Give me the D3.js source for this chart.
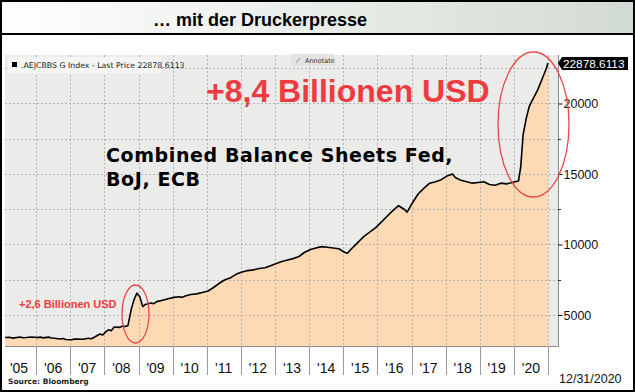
<!DOCTYPE html>
<html>
<head>
<meta charset="utf-8">
<script src="https://cdn.jsdelivr.net/npm/d3@7"></script>
<style>
  body { margin: 0; background: #fff; }
  svg { display: block; }
</style>
</head>
<body>
<div id="chart"></div>
<script>
// data (bn USD, combined Fed + BoJ + ECB)
var dates = [
  "2005-01-15","2005-02-15","2005-03-15","2005-05-01","2005-05-15","2005-07-15","2005-08-15","2005-09-15","2005-11-15",
  "2006-01-15","2006-02-15","2006-03-15","2006-05-15","2006-06-15","2006-07-15","2006-09-15","2006-10-15","2006-11-15",
  "2007-01-15","2007-02-15","2007-03-15","2007-05-15","2007-07-15","2007-08-15","2007-09-15","2007-11-15","2007-12-15",
  "2008-01-15","2008-02-15","2008-03-15","2008-04-15","2008-06-15","2008-07-15","2008-08-15","2008-09-10",
  "2008-10-15","2008-11-15","2008-12-15","2009-01-15","2009-02-15","2009-03-15",
  "2009-05-15","2009-06-15","2009-07-15","2009-09-15","2009-11-15",
  "2010-01-15","2010-03-15","2010-04-15","2010-05-15","2010-07-15","2010-09-15","2010-11-15",
  "2011-01-15","2011-03-15","2011-05-15","2011-07-15","2011-09-15","2011-11-15",
  "2012-01-15","2012-03-15","2012-05-15","2012-07-15","2012-09-15","2012-11-15",
  "2013-01-15","2013-03-15","2013-05-15","2013-07-15","2013-09-15","2013-11-15",
  "2014-01-15","2014-03-15","2014-05-15","2014-07-15","2014-09-15","2014-11-15",
  "2015-01-15","2015-02-15","2015-04-15","2015-06-15","2015-08-15","2015-10-15","2015-12-15",
  "2016-02-15","2016-04-15","2016-06-15","2016-08-15","2016-10-15","2016-11-15",
  "2017-01-15","2017-03-15","2017-05-15","2017-07-15","2017-09-15","2017-11-15",
  "2018-01-15","2018-03-15","2018-04-15","2018-06-15","2018-08-15","2018-10-15","2018-12-15",
  "2019-02-15","2019-04-15","2019-06-15","2019-08-15","2019-10-15","2019-12-15",
  "2020-01-15","2020-02-20","2020-03-15","2020-04-10","2020-05-15","2020-06-15",
  "2020-07-15","2020-08-15","2020-09-15","2020-10-15","2020-11-15","2020-12-15","2020-12-31"
];
var values = [
  3450,3400,3420,3360,3380,3440,3390,3400,3440,
  3400,3430,3380,3430,3370,3350,3300,3330,3260,
  3240,3290,3300,3280,3350,3320,3420,3650,3580,
  3800,3950,3880,4150,4120,4220,4180,4250,
  5400,6100,6550,6300,5600,5750,
  5850,5800,5950,6050,6150,
  6250,6300,6250,6350,6450,6500,6600,
  6700,6950,7250,7500,7650,7900,
  8050,8150,8200,8300,8350,8500,
  8650,8800,8900,9000,9150,9450,
  9650,9750,9850,9800,9750,9700,
  9450,9380,9800,10200,10600,10900,11200,
  11600,12000,12400,12750,12500,12300,
  13000,13600,14000,14350,14450,14600,
  14850,15000,14750,14550,14450,14350,14400,
  14450,14250,14200,14350,14300,14400,
  14450,14500,15500,17800,19000,19800,
  20200,20600,21000,21500,22000,22500,22878.6113
];
var yearLabels = ["'05","'06","'07","'08","'09","'10","'11","'12","'13","'14","'15","'16","'17","'18","'19","'20"];
var yTicks = [5000, 10000, 15000, 20000];
var lastPrice = "22878.6113";

var w = 635;
var h = 392;

var plotLeft = 5, plotRight = 558, plotTop = 55, plotBottom = 346;

var parseDate = d3.timeParse("%Y-%m-%d");
var data = dates.map(function(d, i) { return { date: parseDate(d), value: values[i] }; });

var x = d3.scaleTime()
  .domain([new Date(2005, 0, 1), new Date(2021, 0, 1)])
  .range([2, 548]);
var y = d3.scaleLinear()
  .domain([0, 25000])
  .range([385.5, 33]);

var svg = d3.select("#chart")
  .append("svg")
  .attr("width", w)
  .attr("height", h);

var defs = svg.append("defs");
var grad = defs.append("linearGradient").attr("id", "titleGrad");
grad.append("stop").attr("offset", "0%").attr("stop-color", "#ffffff");
grad.append("stop").attr("offset", "100%").attr("stop-color", "#d2dbd2");
defs.append("clipPath").attr("id", "plotClip")
  .append("rect")
  .attr("x", plotLeft).attr("y", plotTop)
  .attr("width", plotRight - plotLeft).attr("height", plotBottom - plotTop);

// title bar
svg.append("rect").attr("x", 0).attr("y", 0).attr("width", w).attr("height", 34)
  .attr("fill", "url(#titleGrad)");
svg.append("line").attr("x1", 0).attr("x2", w).attr("y1", 34).attr("y2", 34)
  .attr("stroke", "#000").attr("stroke-width", 2);
svg.append("text")
  .attr("x", 260).attr("y", 26)
  .attr("text-anchor", "middle")
  .style("font-family", "'Liberation Sans', Arial, sans-serif")
  .style("font-weight", "bold")
  .style("font-size", "18px")
  .attr("fill", "#000")
  .text("\u2026 mit der Druckerpresse");

// plot background
svg.append("rect")
  .attr("x", plotLeft).attr("y", plotTop)
  .attr("width", plotRight - plotLeft).attr("height", plotBottom - plotTop)
  .attr("fill", "#ebebea");

var plot = svg.append("g").attr("clip-path", "url(#plotClip)");

var area = d3.area()
  .x(function(d) { return x(d.date); })
  .y0(plotBottom)
  .y1(function(d) { return y(d.value); });
var line = d3.line()
  .x(function(d) { return x(d.date); })
  .y(function(d) { return y(d.value); });

plot.append("path").datum(data).attr("d", area).attr("fill", "#fdd9b4");

// grid
var yearBounds = d3.range(2006, 2022).map(function(yr) { return new Date(yr, 0, 1); });
plot.selectAll(".vgrid")
  .data(yearBounds)
  .enter().append("line")
  .attr("x1", function(d) { return Math.round(x(d)) + 0.5; })
  .attr("x2", function(d) { return Math.round(x(d)) + 0.5; })
  .attr("y1", plotTop).attr("y2", plotBottom)
  .attr("stroke", "#b4b4b4").attr("stroke-dasharray", "2,2");
var gridVals = d3.range(5000, 25000, 2500);
plot.selectAll(".hgrid")
  .data(gridVals)
  .enter().append("line")
  .attr("x1", plotLeft).attr("x2", plotRight)
  .attr("y1", function(d) { return Math.round(y(d)) + 0.5; })
  .attr("y2", function(d) { return Math.round(y(d)) + 0.5; })
  .attr("stroke", "#b4b4b4").attr("stroke-dasharray", "2,2");

plot.append("path").datum(data).attr("d", line)
  .attr("fill", "none").attr("stroke", "#000").attr("stroke-width", 1.6)
  .attr("stroke-linejoin", "round");

// axes lines
svg.append("line").attr("x1", plotLeft).attr("x2", plotRight + 0.5)
  .attr("y1", plotBottom + 0.5).attr("y2", plotBottom + 0.5).attr("stroke", "#8a8a8a");
svg.append("line").attr("x1", plotRight + 0.5).attr("x2", plotRight + 0.5)
  .attr("y1", plotTop).attr("y2", plotBottom + 0.5).attr("stroke", "#8a8a8a");

// right axis
var yAxis = d3.axisRight(y).tickValues(yTicks).tickSize(4).tickPadding(1)
  .tickFormat(d3.format("d"));
var yg = svg.append("g").attr("transform", "translate(" + (plotRight + 0.5) + ",0)").call(yAxis);
yg.select(".domain").remove();
yg.selectAll("text")
  .style("font-family", "'Liberation Sans', Arial, sans-serif")
  .style("font-size", "12.5px").attr("fill", "#111");
svg.selectAll(".minor")
  .data([7500, 12500, 17500])
  .enter().append("line")
  .attr("x1", plotRight).attr("x2", plotRight + 3)
  .attr("y1", function(d) { return Math.round(y(d)) + 0.5; })
  .attr("y2", function(d) { return Math.round(y(d)) + 0.5; })
  .attr("stroke", "#333");

// year separators and labels below axis
svg.selectAll(".sep")
  .data(yearBounds)
  .enter().append("line")
  .attr("x1", function(d) { return Math.round(x(d)) + 0.5; })
  .attr("x2", function(d) { return Math.round(x(d)) + 0.5; })
  .attr("y1", plotBottom).attr("y2", 375)
  .attr("stroke", "#9a9a9a");
svg.selectAll(".yl")
  .data(yearLabels)
  .enter().append("text")
  .attr("x", function(d, i) { return x(new Date(2005 + i, 6, 2)); })
  .attr("y", 373)
  .attr("text-anchor", "middle")
  .style("font-family", "'Liberation Sans', Arial, sans-serif")
  .style("font-size", "14px")
  .attr("fill", "#111")
  .text(function(d) { return d; });

svg.append("text").attr("x", 8).attr("y", 384)
  .style("font-family", "'DejaVu Sans', Verdana, sans-serif")
  .style("font-weight", "bold").style("font-size", "7.5px")
  .attr("fill", "#222")
  .text("Source:  Bloomberg");
svg.append("text").attr("x", 559).attr("y", 383)
  .style("font-family", "'Liberation Sans', Arial, sans-serif")
  .style("font-size", "12.5px").attr("fill", "#111")
  .text("12/31/2020");

// legend box
svg.append("rect").attr("x", 8).attr("y", 57).attr("width", 153).attr("height", 16)
  .attr("fill", "#f5f5f3");
svg.append("rect").attr("x", 12).attr("y", 62).attr("width", 5).attr("height", 5).attr("fill", "#000");
svg.append("text").attr("x", 21).attr("y", 68)
  .style("font-family", "'DejaVu Sans', Verdana, sans-serif")
  .style("font-size", "7.8px").attr("fill", "#222")
  .text(".AEJCBBS G Index - Last Price " + lastPrice);

// annotate button
svg.append("rect").attr("x", 291).attr("y", 54).attr("width", 43).attr("height", 12)
  .attr("fill", "#e2e2e0");
svg.append("line").attr("x1", 296).attr("y1", 63).attr("x2", 300).attr("y2", 58)
  .attr("stroke", "#777").attr("stroke-width", 0.8);
svg.append("text").attr("x", 305).attr("y", 63)
  .style("font-family", "'DejaVu Sans', Verdana, sans-serif")
  .style("font-size", "6.5px").attr("fill", "#333")
  .text("Annotate");

// last price tag
var tagY = Math.round(y(values[values.length - 1]));
svg.append("path")
  .attr("d", "M558," + tagY + " L562," + (tagY - 6) + " L628," + (tagY - 6) +
    " L628," + (tagY + 7) + " L562," + (tagY + 7) + " Z")
  .attr("fill", "#000");
svg.append("text").attr("x", 563).attr("y", tagY + 5)
  .style("font-family", "'Liberation Sans', Arial, sans-serif")
  .style("font-size", "11.8px").attr("fill", "#fff")
  .text(lastPrice);

// annotations
svg.append("text").attr("x", 206).attr("y", 102)
  .style("font-family", "'Liberation Sans', Arial, sans-serif")
  .style("font-weight", "bold").style("font-size", "32px")
  .attr("fill", "#ef3b40")
  .text("+8,4 Billionen USD");
svg.append("text").attr("x", 19).attr("y", 308)
  .style("font-family", "'Liberation Sans', Arial, sans-serif")
  .style("font-weight", "bold").style("font-size", "11px")
  .attr("fill", "#ef3b40")
  .text("+2,6 Billionen USD");
var cap = svg.append("text")
  .style("font-family", "'DejaVu Sans', Verdana, sans-serif")
  .style("font-weight", "bold").style("font-size", "19px")
  .style("letter-spacing", "0.6px")
  .attr("fill", "#000");
cap.append("tspan").attr("x", 106).attr("y", 162).text("Combined Balance Sheets Fed,");
cap.append("tspan").attr("x", 106).attr("y", 186).text("BoJ, ECB");

svg.append("ellipse").attr("cx", 533.5).attr("cy", 124.5).attr("rx", 35.5).attr("ry", 72.5)
  .attr("fill", "none").attr("stroke", "#e8464b").attr("stroke-width", 1.3);
svg.append("ellipse").attr("cx", 135.5).attr("cy", 314).attr("rx", 13.5).attr("ry", 29)
  .attr("fill", "none").attr("stroke", "#e8464b").attr("stroke-width", 1.3);

// outer frame
svg.append("rect").attr("x", 1).attr("y", 1).attr("width", w - 2).attr("height", h - 2)
  .attr("fill", "none").attr("stroke", "#000").attr("stroke-width", 2);
</script>
</body>
</html>
